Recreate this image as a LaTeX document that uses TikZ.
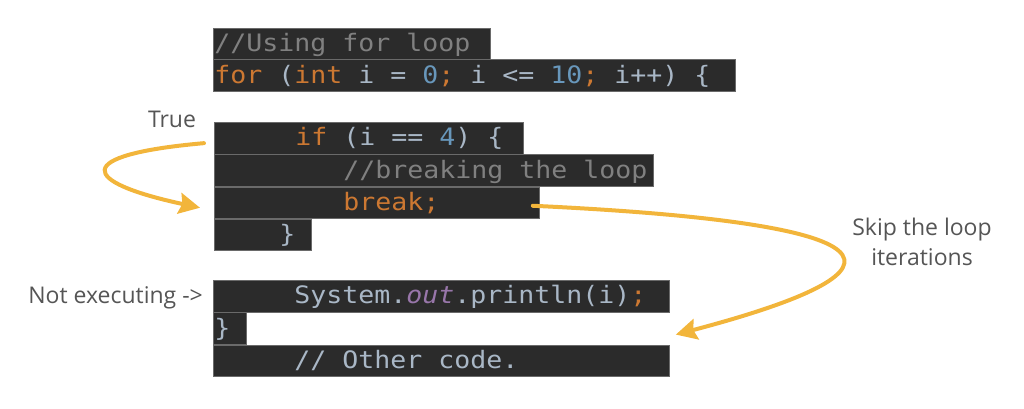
\documentclass[tikz,border=0pt]{standalone}
\usepackage{fontspec}
\usepackage{xcolor}
\usepackage{tikz}
\usetikzlibrary{arrows.meta,calc,positioning}
\newfontfamily\codefont[FakeStretch=1.107]{DejaVu Sans Mono}
\newfontfamily\notefont{Open Sans}
\definecolor{codebg}{HTML}{2B2B2B}
\definecolor{rowedge}{HTML}{6A6A6A}
\definecolor{plaincol}{HTML}{A9B7C6}
\definecolor{kwcol}{HTML}{CC7832}
\definecolor{numcol}{HTML}{6897BB}
\definecolor{cmtcol}{HTML}{808080}
\definecolor{fldcol}{HTML}{9876AA}
\definecolor{jumpcol}{HTML}{F2B53B}
\definecolor{notecol}{HTML}{555555}
\newlength{\codew}
\setlength{\codew}{16pt}
\newcommand{\kw}[1]{\textcolor{kwcol}{#1}}
\newcommand{\numv}[1]{\textcolor{numcol}{#1}}
\newcommand{\cmt}[1]{\textcolor{cmtcol}{#1}}
\newcommand{\fld}[1]{\textcolor{fldcol}{\itshape #1}}
\newcommand{\indt}[1]{\hspace*{#1\codew}}

\begin{document}
\begin{tikzpicture}[
  x=1pt, y=-1pt,
  coderow/.style = {draw=rowedge, fill=codebg, line width=0.8pt,
                    anchor=north west, align=left, text=plaincol,
                    inner xsep=1pt, inner ysep=0pt,
                    text height=23.5pt, text depth=8pt,
                    font=\codefont\fontsize{24}{28}\selectfont,
                    execute at begin node={\spaceskip=\codew\relax}},
  note/.style    = {text=notecol, inner sep=0pt,
                    font=\notefont\fontsize{23}{30}\selectfont},
  jump/.style    = {-{Stealth[length=21pt,width=21pt,inset=3pt]},
                    draw=jumpcol, line width=4pt, line cap=round},
]
\useasboundingbox (0,0) rectangle (1024,409);
% loop header
\node[coderow, text width=275pt] (r1) at (213,28) {\cmt{//Using for loop}};
\node[coderow, text width=520pt] (r2) at (213,59.5)
    {\kw{for} (\kw{int} i = \numv{0}\kw{;} i <= \numv{10}\kw{;} i++) \{};
% if block
\node[coderow, text width=307pt] (r3) at (214,122)
    {\indt{5}\kw{if} (i == \numv{4}) \{};
\node[coderow, text width=437pt] (r4) at (r3.south west)
    {\indt{8}\cmt{//breaking the loop}};
\node[coderow, text width=323pt] (r5) at (r4.south west)
    {\indt{8}\kw{break;}};
\node[coderow, text width=95pt]  (r6) at (r5.south west) {\indt{4}\}};
% after the if
\node[coderow, text width=454pt] (r7) at (213,280)
    {\indt{5}System.\fld{out}.println(i)\kw{;}};
\node[coderow, text width=31pt]  (r8) at (r7.south west) {\}};
\node[coderow, text width=454pt] (r9) at (r8.south west)
    {\indt{5}// Other code.};
% labels
\node[note, anchor=base] (truelbl) at (172,128) {True};
\node[note, anchor=base east] (notexec) at (203,303) {Not executing ->};
\node[note, align=center] (skiplbl) at (922,242) {Skip the loop\\iterations};
% jumps
\coordinate (truefrom) at ($(r3.west)+(-10,5)$);
\coordinate (trueto)   at ($(r5.west)+(-14,5)$);
\coordinate (skipfrom) at ($(r5.east)+(-7,3)$);
\coordinate (skipto)   at ($(r9.north east)+(6,-10)$);
\draw[jump] (truefrom) .. controls (70,155) and (80,182) .. (trueto);
\draw[jump] (skipfrom) .. controls (940,225) and (898,276) .. (skipto);
\end{tikzpicture}
\end{document}
